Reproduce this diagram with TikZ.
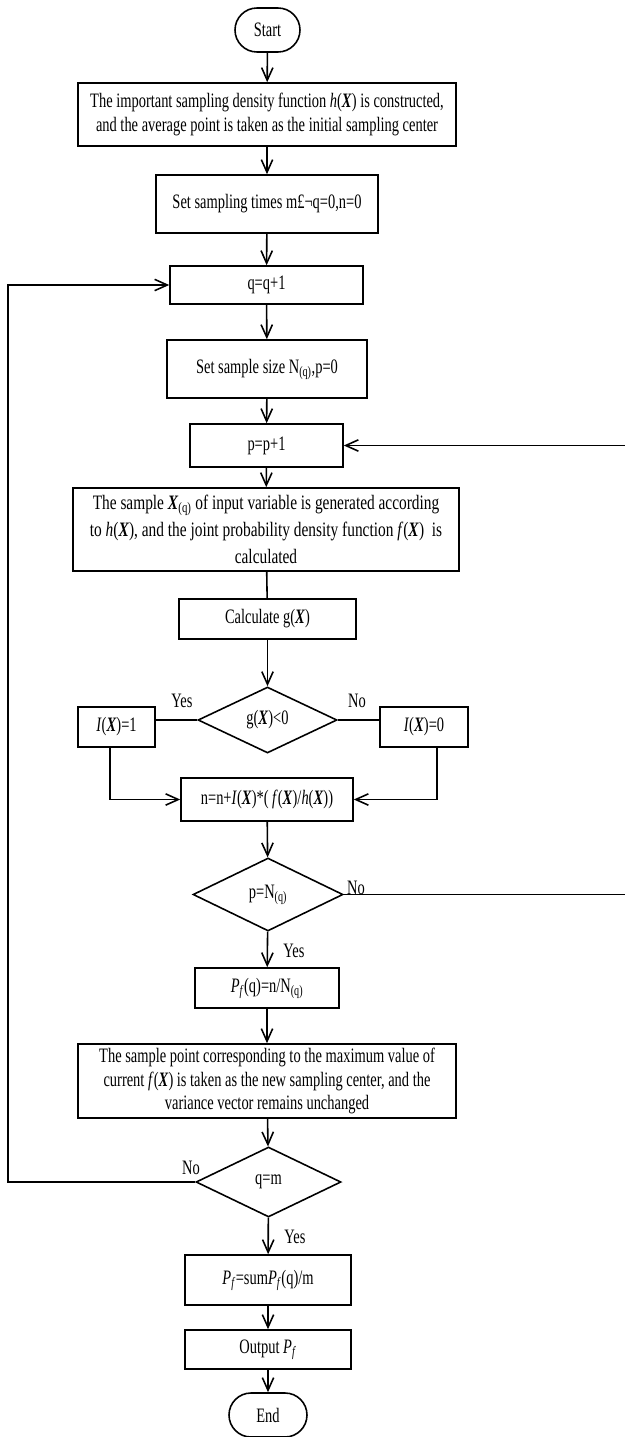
\documentclass[tikz,border=0pt]{standalone}
\usepackage{fontspec}
\setmainfont{Liberation Serif}[FakeStretch=0.705]
\newfontfamily\wideserif{Liberation Serif}[FakeStretch=0.75]
\usetikzlibrary{arrows.meta,shapes.geometric,calc}
\newcommand{\BX}{\textbf{\textit{X}}}
\newcommand{\Pf}{\textit{P}\textsubscript{\textit{f}}}
\newcommand{\sq}{\textsubscript{(q)}}
\begin{document}
\begin{tikzpicture}[x=0.03cm,y=-0.03cm,line width=1.35pt,
  >={Straight Barb[length=0.38cm,width=0.34cm]},
  sz/.style 2 args={minimum width=#1*0.03cm,minimum height=#2*0.03cm},
  txt/.style={font=\fontsize{17.5}{20}\selectfont},
  box/.style={draw,rectangle,inner sep=0pt,align=center,txt},
  dia/.style={draw,diamond,inner sep=0pt,align=center,txt},
  term/.style={draw,rectangle,rounded corners=0.66cm,inner sep=0pt,txt},
  lbl/.style={inner sep=0pt,txt}]
\useasboundingbox (0,0) rectangle (625,1437);
\clip (0,0) rectangle (625,1437);
\node[term,sz={65}{44}] (start) at (267.5,30) {Start};
\node[box,sz={378}{63}] (b1) at (267,114.5) {The important sampling density function \textit{h}(\BX) is constructed,\\ and the average point is taken as the initial sampling center};
\node[box,sz={222}{58}] (b2) at (267,204) {Set sampling times m£¬q=0,n=0};
\node[box,sz={193}{38}] (b3) at (266.5,285) {q=q+1};
\node[box,sz={200}{58}] (b4) at (267,369) {Set sample size N\sq,p=0};
\node[box,sz={153}{43}] (b5) at (266.5,445.5) {p=p+1};
\node[box,sz={386}{83},font=\wideserif\fontsize{17.5}{23}\selectfont] (b6) at (266,529.5) {The sample \BX\sq{} of input variable is generated according\\ to \textit{h}(\BX), and the joint probability density function \textit{f}(\BX)~ is\\ calculated};
\node[box,sz={177}{40}] (b7) at (267.5,619) {Calculate g(\BX)};
\node[dia,sz={139}{66}] (d1) at (267.5,720) {g(\BX)<0};
\node[box,sz={77}{40}] (i1) at (116.5,727) {\textit{I}(\BX)=1};
\node[box,sz={88}{40}] (i0) at (424,727) {\textit{I}(\BX)=0};
\node[box,sz={172}{43}] (nb) at (267,799.5) {n=n+\textit{I}(\BX)*( \textit{f}(\BX)/\textit{h}(\BX))};
\node[dia,sz={150}{73}] (d2) at (268,894.5) {p=N\sq};
\node[box,sz={144}{40}] (pf) at (267,988) {\Pf(q)=n/N\sq};
\node[box,sz={378}{74}] (big) at (267,1081) {The sample point corresponding to the maximum value of\\ current \textit{f}(\BX) is taken as the new sampling center, and the\\ variance vector remains unchanged};
\node[dia,sz={145}{70}] (d3) at (268.5,1182) {q=m};
\node[box,sz={166}{50}] (sum) at (268,1280) {\Pf=sum\Pf(q)/m};
\node[box,sz={166}{39}] (out) at (268,1349.5) {Output \Pf};
\node[term,sz={78}{44}] (end) at (268,1415) {End};
\node[lbl] (ly1) at (182,701) {Yes};
\node[lbl] (ln1) at (357,701) {No};
\node[lbl] (ln2) at (356,888) {No};
\node[lbl] (ly2) at (294,951) {Yes};
\node[lbl] (ln3) at (191,1168) {No};
\node[lbl] (ly3) at (295,1237) {Yes};
\draw[->] (start) -- (b1);
\draw[->] (b1) -- (b2);
\draw[->] (b2) -- (b3);
\draw[->] (b3) -- (b4);
\draw[->] (b4) -- (b5);
\draw[->] (b5) -- (b6);
\draw (b6) -- (b7);
\draw[->] (b7) -- (d1);
\draw (d1.west) -- (d1.west -| i1.east);
\draw (d1.east) -- (d1.east -| i0.west);
\draw[->] ($(i1.south)+(-6.5,0)$) |- (nb.west);
\draw[->] ($(i0.south)+(13,0)$) |- (nb.east);
\draw[->] (nb) -- (d2);
\draw[->] (d2) -- (pf);
\draw[->] (pf) -- (big);
\draw[->] (big) -- (d3);
\draw[->] (d3) -- (sum);
\draw[->] (sum) -- (out);
\draw[->] (out) -- (end);
\draw[->] (d2.east) -- (630,894.5) |- (b5.east);
\draw[->] (d3.west) -- (8,1182) |- (b3.west);
\end{tikzpicture}
\end{document}
